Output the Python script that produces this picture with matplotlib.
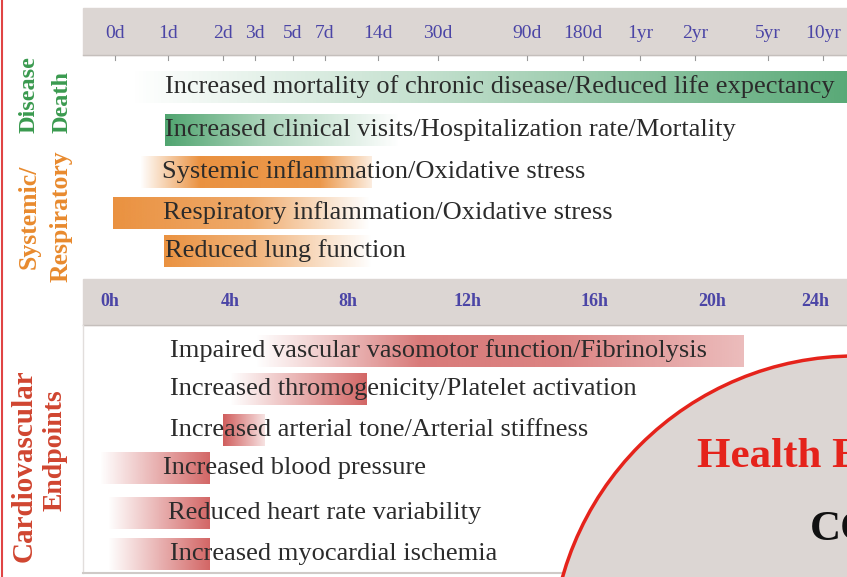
import matplotlib.pyplot as plt
import numpy as np
from matplotlib.patches import Rectangle, Circle

plt.rcParams['font.family'] = ['Liberation Serif', 'DejaVu Serif']

# timeline ticks (top: days/years, bottom: hours)
day_labels = ['0d', '1d', '2d', '3d', '5d', '7d', '14d', '30d', '90d', '180d', '1yr', '2yr', '5yr', '10yr']
day_x = [115, 168, 223, 255, 293, 325, 378, 438, 527, 583, 640, 695, 768, 823]
hour_labels = ['0h', '4h', '8h', '12h', '16h', '20h', '24h']
hour_x = [110, 230, 348, 468, 595, 712, 815]

# effect bars: text, row centre, text start, gradient stops (x, alpha), colour
top_text = ['Increased mortality of chronic disease/Reduced life expectancy',
            'Increased clinical visits/Hospitalization rate/Mortality',
            'Systemic inflammation/Oxidative stress',
            'Respiratory inflammation/Oxidative stress',
            'Reduced lung function']
top_y = [87, 130, 172, 213, 251]
top_text_x = [165, 165, 162, 163, 165]
top_stops_x = [[130, 420, 847], [165, 260, 400], [140, 200, 320, 372], [113, 250, 370], [164, 260, 372]]
top_stops_a = [[0.0, 0.3, 0.85], [0.9, 0.45, 0.0], [0.0, 0.9, 0.85, 0.15], [0.9, 0.7, 0.0], [0.9, 0.6, 0.0]]
top_color = ['#3c9a5f', '#3c9a5f', '#e8852a', '#e8852a', '#e8852a']

cv_text = ['Impaired vascular vasomotor function/Fibrinolysis',
           'Increased thromogenicity/Platelet activation',
           'Increased arterial tone/Arterial stiffness',
           'Increased blood pressure',
           'Reduced heart rate variability',
           'Increased myocardial ischemia']
cv_y = [351, 389, 430, 468, 513, 554]
cv_text_x = [170, 170, 170, 163, 168, 170]
cv_stops_x = [[255, 330, 420, 560, 744], [230, 367], [223, 265], [100, 210], [108, 210], [108, 210]]
cv_stops_a = [[0.0, 0.3, 0.7, 0.65, 0.35], [0.0, 0.8], [0.85, 0.15], [0.0, 0.8], [0.0, 0.8], [0.0, 0.8]]
cv_color = '#c8403f'
bar_h = 32

tick_col = '#4b45a6'
band_col = '#dcd6d3'

fig = plt.figure(figsize=(8.47, 5.77), dpi=100)
ax = fig.add_axes([0, 0, 1, 1])


def grad_bar(xs, alphas, yc, color):
    x = np.linspace(xs[0], xs[-1], 300)
    a = np.interp(x, xs, alphas)
    img = np.zeros((1, len(x), 4))
    img[..., :3] = plt.matplotlib.colors.to_rgb(color)
    img[..., 3] = a
    ax.imshow(img, extent=(xs[0], xs[-1], yc + bar_h / 2, yc - bar_h / 2),
              aspect='auto', interpolation='bilinear', zorder=2)


# red frame line on the left
ax.plot([2, 2], [0, 577], color='#e04444', lw=1.5)

# grey timeline bands
ax.add_patch(Rectangle((83, 8), 764, 47, color=band_col, zorder=1))
ax.plot([83, 847], [55, 55], color='#c5bfbc', lw=1, zorder=1)
ax.add_patch(Rectangle((83, 279), 764, 46, color=band_col, zorder=1))
ax.plot([83, 847], [325, 325], color='#c5bfbc', lw=1, zorder=1)
ax.plot([83, 83], [325, 573], color='#e2dedc', lw=1, zorder=1)
ax.plot([83, 600], [573, 573], color='#cfcac7', lw=1.5, zorder=1)

for lab, x in zip(day_labels, day_x):
    ax.text(x, 33, lab, color=tick_col, fontsize=14, ha='center', va='center', zorder=3)
    ax.plot([x, x], [56, 60], color='#999999', lw=0.8, zorder=1)
for lab, x in zip(hour_labels, hour_x):
    ax.text(x, 302, lab, color=tick_col, fontsize=13, fontweight='bold', ha='center', va='center', zorder=3)

# effect bars
for t, y, tx, sx, sa, c in zip(top_text, top_y, top_text_x, top_stops_x, top_stops_a, top_color):
    grad_bar(sx, sa, y, c)
    ax.text(tx, y, t, fontsize=19, color='#2b2b2b', ha='left', va='center', zorder=4)
for t, y, tx, sx, sa in zip(cv_text, cv_y, cv_text_x, cv_stops_x, cv_stops_a):
    grad_bar(sx, sa, y, cv_color)
    ax.text(tx, y, t, fontsize=19, color='#2b2b2b', ha='left', va='center', zorder=4)

# group labels
ax.text(29, 133, 'Disease', rotation=90, color='#3a9a4f', fontsize=17.5, fontweight='bold', ha='center', va='bottom')
ax.text(62, 133, 'Death', rotation=90, color='#3a9a4f', fontsize=17.5, fontweight='bold', ha='center', va='bottom')
ax.text(29, 269, 'Systemic/', rotation=90, color='#e88a2e', fontsize=18.5, fontweight='bold', ha='center', va='bottom')
ax.text(61, 282, 'Respiratory', rotation=90, color='#e88a2e', fontsize=18.5, fontweight='bold', ha='center', va='bottom')
ax.text(24, 466, 'Cardiovascular', rotation=90, color='#d04530', fontsize=21, fontweight='bold', ha='center', va='center')
ax.text(55, 450, 'Endpoints', rotation=90, color='#d04530', fontsize=20, fontweight='bold', ha='center', va='center')

# health effects circle
ax.add_patch(Circle((855, 660), 304, facecolor=band_col, edgecolor='#e5231b', lw=2.5, zorder=5))
ax.text(697, 457, 'Health Effects', color='#e5231b', fontsize=31, fontweight='bold', ha='left', va='center',
        zorder=6, clip_on=True)
ax.text(810, 530, 'CO', color='#111111', fontsize=31, fontweight='bold', ha='left', va='center',
        zorder=6, clip_on=True)

ax.set_xlim(0, 847)
ax.set_ylim(577, 0)
ax.axis('off')
fig.savefig('out.png', dpi=100, facecolor='white')
